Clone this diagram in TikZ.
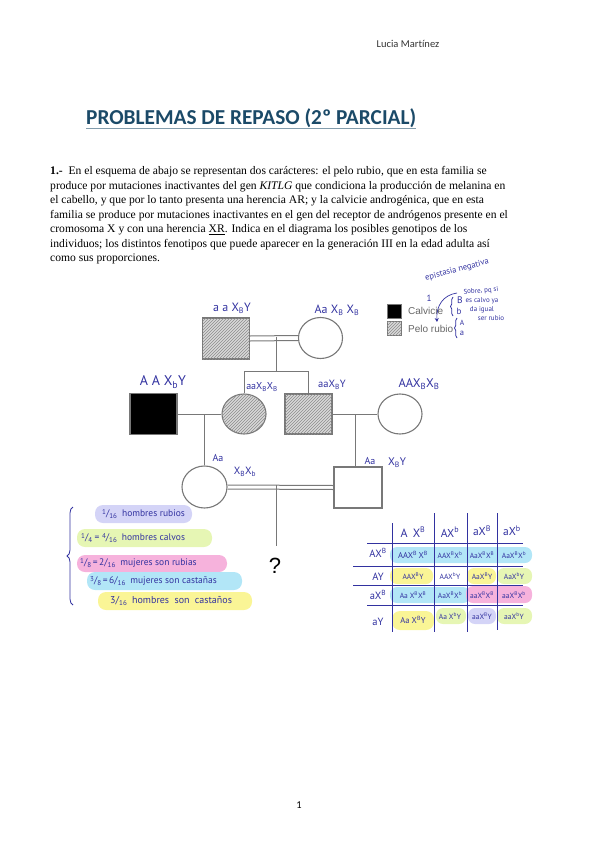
\documentclass[tikz,border=0pt]{standalone}
\usepackage{fontspec}
\setmainfont{Liberation Serif}
\newfontfamily\hand{PT Sans}
\newfontfamily\calfont[Ligatures=NoCommon]{Carlito}
\newfontfamily\legfont{Liberation Sans}
\usetikzlibrary{patterns,arrows.meta,decorations.pathreplacing,shapes.geometric}
\definecolor{ink}{RGB}{50,50,160}
\definecolor{titleblue}{RGB}{27,74,104}
\definecolor{edge}{RGB}{120,120,120}
\definecolor{hlav}{RGB}{212,212,247}
\definecolor{hlime}{RGB}{230,246,180}
\definecolor{hpink}{RGB}{246,178,220}
\definecolor{hcyan}{RGB}{178,230,247}
\definecolor{hyel}{RGB}{250,245,150}
\newcommand\XB{X\textsuperscript{B}}
\newcommand\Xb{X\textsuperscript{b}}
\newcommand\myfr[2]{\raisebox{2pt}{\scriptsize #1}/\raisebox{-2pt}{\scriptsize #2}}
\tikzset{
  person/.style={draw=edge, line width=1.1pt, minimum width=47pt, minimum height=41pt, inner sep=0pt},
  male/.style={person, rectangle},
  female/.style={person, ellipse, minimum width=44pt},
  hatch/.style={fill=gray!30, postaction={pattern=north east lines, pattern color=gray!90}},
  link/.style={draw=edge, line width=1pt},
  hw/.style={text=ink, font=\hand, inner sep=0pt},
  para/.style={anchor=west, inner sep=0pt, font=\fontsize{11.6}{13}\selectfont},
  pill/.style={rounded corners=8pt},
  tline/.style={draw=ink, line width=0.8pt},
  cell/.style={hw, font=\hand\fontsize{7.5}{8}\selectfont},
  thead/.style={hw, font=\hand\fontsize{10.5}{11}\selectfont}
}
\begin{document}
\begin{tikzpicture}[x=1pt,y=-1pt]
\useasboundingbox (0,0) rectangle (599,848);
% header
\node[font=\calfont\fontsize{10.5}{12}\selectfont, text=black!80] (author) at (408,44) {Lucia Mart\kern0ptínez};
\node[font=\calfont\bfseries\fontsize{21.3}{24}\selectfont, text=titleblue, anchor=west, inner sep=0pt] (title) at (86,118) {PROBLEMAS DE REPASO (2º PARCIAL)};
\draw[titleblue!55, line width=1.2pt] (title.south west) ++(0,1) coordinate (ul1) -- (title.south east |- ul1);
% paragraph
\node[para] (p1) at (50,172) {\textbf{1.-}\ \ En el esquema de abajo se representan dos carácteres: el pelo rubio, que en esta familia se};
\node[para] (p2) at (50,187) {produce por mutaciones inactivantes del gen \textit{KITLG} que condiciona la producción de melanina en};
\node[para] (p3) at (50,201) {el cabello, y que por lo tanto presenta una herencia AR; y la calvicie androgénica, que en esta};
\node[para] (p4) at (50,216) {familia se produce por mutaciones inactivantes en el gen del receptor de andrógenos presente en el};
\node[para] (p5) at (50,230) {cromosoma X y con una herencia \underline{XR}. Indica en el diagrama los posibles genotipos de los};
\node[para] (p6) at (50,245) {individuos; los distintos fenotipos que puede aparecer en la generación III en la edad adulta así};
\node[para] (p7) at (50,259) {como sus proporciones.};
% pedigree
\node[male, hatch] (I1) at (226,338.5) {};
\node[female] (I2) at (320.5,338) {};
\node[male, fill=black] (II1) at (153.5,414) {};
\node[female, hatch, minimum height=40pt] (II2) at (244,414) {};
\node[male, hatch, minimum height=40pt] (II3) at (308.5,414) {};
\node[female, minimum height=40pt] (II4) at (400,414) {};
\node[female, minimum width=45pt, minimum height=42pt] (III1) at (204.5,487) {};
\node[male, minimum width=48pt] (III2) at (358,487.5) {};
% gen I mating (double line)
\draw[link] ([yshift=-2.5pt]I1.east) -- ([yshift=-2.5pt]I2.west);
\draw[link] ([yshift=2.5pt]I1.east) -- ([yshift=2.5pt]I2.west);
\coordinate (m1) at (276,336.5);
\coordinate (s1) at (276,371);
\draw[link] (m1) -- (s1);
\draw[link] (s1) -| (II2.north);
\draw[link] (s1) -| (II3.north);
% gen II matings
\draw[link] (II1.east) -- (II2.west);
\draw[link] (II3.east) -- (II4.west);
\coordinate (m2) at (204,414);
\coordinate (m3) at (355,414);
\draw[link] (m2) -- (m2 |- III1.north);
\draw[link] (m3) -- (m3 |- III2.north);
% gen III mating (double)
\draw[link] ([yshift=-2pt]III1.east) -- ([yshift=-2pt]III2.west);
\draw[link] ([yshift=2pt]III1.east) -- ([yshift=2pt]III2.west);
\coordinate (m4) at (276,485);
\coordinate (q1) at (276,546);
\draw[link] (m4) -- (q1);
\node[font=\legfont\fontsize{22}{24}\selectfont] (qm) at (275,566) {?};
% legend
\node[draw=edge, fill=black, minimum size=14pt, inner sep=0pt] (lg1) at (394,311) {};
\node[draw=edge, hatch, minimum size=14pt, inner sep=0pt] (lg2) at (394,328.5) {};
\node[anchor=west, text=black!60, font=\legfont\fontsize{10}{11}\selectfont, inner sep=0pt] (lt1) at (408,311) {Calvicie};
\node[anchor=west, text=black!60, font=\legfont\fontsize{10}{11}\selectfont, inner sep=0pt] (lt2) at (408,328.5) {Pelo rubio};
% genotype labels
\node[hw, font=\hand\fontsize{12}{13}\selectfont] (g1) at (232,308) {a a X\textsubscript{B}Y};
\node[hw, font=\hand\fontsize{12}{13}\selectfont] (g2) at (337,310) {Aa X\textsubscript{B} X\textsubscript{B}};
\node[hw, font=\hand\fontsize{14}{15}\selectfont] (g3) at (163,382) {A A X\textsubscript{b}Y};
\node[hw, font=\hand\fontsize{10}{11}\selectfont] (g4) at (262,387) {aaX\textsubscript{B}X\textsubscript{B}};
\node[hw, font=\hand\fontsize{10.5}{11}\selectfont] (g5) at (332,385) {aaX\textsubscript{B}Y};
\node[hw, font=\hand\fontsize{12.5}{13}\selectfont] (g6) at (419,384) {AAX\textsubscript{B}X\textsubscript{B}};
\node[hw, font=\hand\fontsize{10}{11}\selectfont] (g7) at (218,458) {Aa};
\node[hw, font=\hand\fontsize{10.5}{11}\selectfont] (g8) at (245,472) {X\textsubscript{B}X\textsubscript{b}};
\node[hw, font=\hand\fontsize{10}{11}\selectfont] (g9) at (370,461) {Aa};
\node[hw, font=\hand\fontsize{11}{12}\selectfont] (g10) at (397,463) {X\textsubscript{B}Y};
% top-right annotation
\node[hw, font=\hand\fontsize{8.5}{9}\selectfont, rotate=15] (a1) at (457,270) {epistasia negativa};
\node[hw, font=\hand\fontsize{7}{8}\selectfont, rotate=5] (a2) at (481,291) {Sobre, pq si};
\node[hw, font=\hand\fontsize{7}{8}\selectfont] (a3) at (482,301) {es calvo ya};
\node[hw, font=\hand\fontsize{7}{8}\selectfont] (a4) at (482,309.5) {da igual};
\node[hw, font=\hand\fontsize{7}{8}\selectfont] (a5) at (491,318) {ser rubio};
\node[hw, font=\hand\fontsize{9}{10}\selectfont] (a6) at (429,298) {1};
\coordinate (ar1) at (457,293);
\coordinate (ar2) at (437,322);
\draw[ink, line width=0.7pt, -{Stealth[length=4pt,width=4pt]}] (ar1) .. controls (443,295) and (436,306) .. (ar2);
\draw[ink, line width=0.7pt, decorate, decoration={brace, amplitude=2.5pt}] (453,316) -- (453,297);
\node[hw, font=\hand\fontsize{9.5}{10}\selectfont] (a7) at (460,300) {B};
\node[hw, font=\hand\fontsize{9}{10}\selectfont] (a8) at (459,311) {b};
\draw[ink, line width=0.7pt, decorate, decoration={brace, amplitude=2.5pt}] (457,338) -- (457,318);
\node[hw, font=\hand\fontsize{7.5}{8}\selectfont] (a9) at (462,323) {A};
\node[hw, font=\hand\fontsize{8.5}{9}\selectfont] (a10) at (462,333) {a};
% proportions list
\fill[hlav, pill] (95,505) rectangle (192,523);
\fill[hlime, pill] (77,529) rectangle (212,547);
\fill[hpink, pill] (77,555) rectangle (227,572);
\fill[hcyan, pill] (87,572) rectangle (242,590);
\fill[hyel, pill] (98,592) rectangle (252,610);
\node[hw, font=\hand\fontsize{9.5}{10}\selectfont, anchor=west] (r1) at (102,514) {\myfr{1}{16}\ \ hombres rubios};
\node[hw, font=\hand\fontsize{9.5}{10}\selectfont, anchor=west] (r2) at (81,538) {\myfr{1}{4} = \myfr{4}{16}\ \ hombres calvos};
\node[hw, font=\hand\fontsize{9.5}{10}\selectfont, anchor=west] (r3) at (80,563.5) {\myfr{1}{8}\,=\,2/\raisebox{-2pt}{\scriptsize 16}\ \ mujeres son rubias};
\node[hw, font=\hand\fontsize{9.5}{10}\selectfont, anchor=west] (r4) at (90,581) {\myfr{3}{8}\,=\,6/\raisebox{-2pt}{\scriptsize 16}\ \ mujeres son castañas};
\node[hw, font=\hand\fontsize{10}{11}\selectfont, anchor=west] (r5) at (110,601) {3/\raisebox{-2pt}{\scriptsize 16}\ \ hombres\ \ son\ \ castaños};
\draw[ink, line width=0.8pt, decorate, decoration={brace, amplitude=6pt}] (73,605) -- (73,507);
% Punnett table highlights
\fill[hcyan, pill, rounded corners=7pt] (390,547) rectangle (532,563);
\fill[hyel, pill, rounded corners=7pt] (390,568) rectangle (433,584);
\fill[hyel, pill, rounded corners=7pt] (467,568) rectangle (496,584);
\fill[hlime, pill, rounded corners=7pt] (497,568) rectangle (532,584);
\fill[hcyan, pill, rounded corners=7pt] (390,587) rectangle (470,603);
\fill[hpink, pill, rounded corners=7pt] (466,586) rectangle (532,603);
\fill[hyel, pill, rounded corners=8pt] (392,611) rectangle (434,630);
\fill[hlime, pill, rounded corners=7pt] (436,608) rectangle (466,624);
\fill[hlav, pill, rounded corners=7pt] (468,608) rectangle (496,624);
\fill[hlime, pill, rounded corners=7pt] (497,608) rectangle (532,624);
% Punnett table lines
\coordinate (v1a) at (392,523); \coordinate (v1b) at (392,632);
\coordinate (v2a) at (434,513); \coordinate (v2b) at (434,632);
\coordinate (v3a) at (467,513); \coordinate (v3b) at (467,632);
\coordinate (v4a) at (497,513); \coordinate (v4b) at (497,630);
\coordinate (h1a) at (367,543); \coordinate (h1b) at (523,543);
\coordinate (h2a) at (353,566); \coordinate (h2b) at (523,566);
\coordinate (h3a) at (353,585); \coordinate (h3b) at (523,585);
\coordinate (h4a) at (367,605); \coordinate (h4b) at (523,605);
\draw[tline] (v1a) -- (v1b); \draw[tline] (v2a) -- (v2b);
\draw[tline] (v3a) -- (v3b); \draw[tline] (v4a) -- (v4b);
\draw[tline] (h1a) -- (h1b); \draw[tline] (h2a) -- (h2b);
\draw[tline] (h3a) -- (h3b); \draw[tline] (h4a) -- (h4b);
% headers
\node[thead, font=\hand\fontsize{12}{12}\selectfont] (c1) at (413,532) {A\, \XB};
\node[thead, font=\hand\fontsize{11.5}{12}\selectfont] (c2) at (450,532) {A\Xb};
\node[thead, font=\hand\fontsize{11.5}{12}\selectfont] (c3) at (482,531) {a\XB};
\node[thead, font=\hand\fontsize{11.5}{12}\selectfont] (c4) at (512,531) {a\Xb};
\node[thead] (rh1) at (378,553) {A\XB};
\node[thead] (rh2) at (378,577) {AY};
\node[thead] (rh3) at (378,595) {a\XB};
\node[thead] (rh4) at (378,622) {aY};
% cells
\node[cell, font=\hand\fontsize{8.5}{9}\selectfont] (k11) at (413,555) {AA\XB\,\XB};
\node[cell] (k12) at (450,555) {AA\XB\Xb};
\node[cell] (k13) at (482,555) {Aa\XB\XB};
\node[cell] (k14) at (514,555) {Aa\XB\Xb};
\node[cell] (k21) at (413,576) {AA\XB Y};
\node[cell] (k22) at (450,576) {AA\Xb Y};
\node[cell] (k23) at (482,576) {Aa\XB Y};
\node[cell] (k24) at (514,576) {Aa\Xb Y};
\node[cell] (k31) at (413,595) {Aa \XB\XB};
\node[cell] (k32) at (450,595) {Aa\XB\Xb};
\node[cell] (k33) at (482,595) {aa\XB\XB};
\node[cell] (k34) at (514,595) {aa\XB\Xb};
\node[cell, font=\hand\fontsize{8.5}{9}\selectfont] (k41) at (413,620) {Aa \XB Y};
\node[cell] (k42) at (450,616) {Aa \Xb Y};
\node[cell] (k43) at (482,616) {aa\XB Y};
\node[cell] (k44) at (514,616) {aa\Xb Y};
% page number
\node[font=\calfont\fontsize{10.5}{12}\selectfont] (pg) at (299,805) {1};
\end{tikzpicture}
\end{document}
